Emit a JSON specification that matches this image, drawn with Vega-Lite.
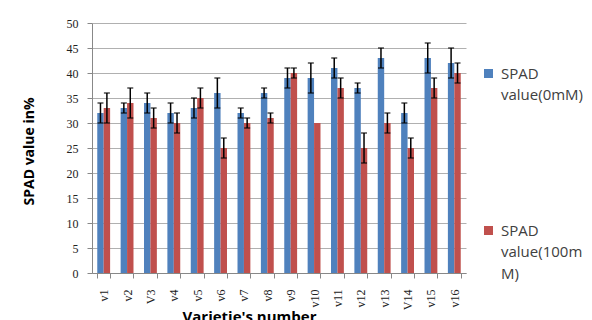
{
  "$schema": "https://vega.github.io/schema/vega-lite/v6.json",
  "width": 374,
  "height": 250,
  "autosize": {"type": "none"},
  "padding": {"left": 92, "top": 23, "right": 126, "bottom": 47},
  "background": "white",
  "config": {
    "view": {"stroke": null},
    "axisY": {
      "titleFont": "Open Sans",
      "titleFontSize": 14,
      "titleFontWeight": "bold",
      "titleColor": "#000",
      "titleAngle": -90,
      "titleX": -59,
      "titleY": 128,
      "titleBaseline": "alphabetic",
      "titleAlign": "center",
      "labelFont": "Liberation Serif",
      "labelFontSize": 12,
      "labelColor": "#222",
      "labelPadding": 9,
      "tickSize": 5,
      "tickColor": "#888",
      "domainColor": "#888",
      "gridColor": "#b0b0b0",
      "gridWidth": 1
    }
  },
  "resolve": {"axis": {"y": "independent"}},
  "data": {
    "values": [
      {"variety": "v1", "series": "0mM", "value": 32, "lo": 30, "hi": 34},
      {"variety": "v1", "series": "100mM", "value": 33, "lo": 30, "hi": 36},
      {"variety": "v2", "series": "0mM", "value": 33, "lo": 32, "hi": 34},
      {"variety": "v2", "series": "100mM", "value": 34, "lo": 31, "hi": 37},
      {"variety": "V3", "series": "0mM", "value": 34, "lo": 32, "hi": 36},
      {"variety": "V3", "series": "100mM", "value": 31, "lo": 29, "hi": 33},
      {"variety": "v4", "series": "0mM", "value": 32, "lo": 30, "hi": 34},
      {"variety": "v4", "series": "100mM", "value": 30, "lo": 28, "hi": 32},
      {"variety": "v5", "series": "0mM", "value": 33, "lo": 31, "hi": 35},
      {"variety": "v5", "series": "100mM", "value": 35, "lo": 33, "hi": 37},
      {"variety": "v6", "series": "0mM", "value": 36, "lo": 33, "hi": 39},
      {"variety": "v6", "series": "100mM", "value": 25, "lo": 23, "hi": 27},
      {"variety": "v7", "series": "0mM", "value": 32, "lo": 31, "hi": 33},
      {"variety": "v7", "series": "100mM", "value": 30, "lo": 29, "hi": 31},
      {"variety": "v8", "series": "0mM", "value": 36, "lo": 35, "hi": 37},
      {"variety": "v8", "series": "100mM", "value": 31, "lo": 30, "hi": 32},
      {"variety": "v9", "series": "0mM", "value": 39, "lo": 37, "hi": 41},
      {"variety": "v9", "series": "100mM", "value": 40, "lo": 39, "hi": 41},
      {"variety": "v10", "series": "0mM", "value": 39, "lo": 36, "hi": 42},
      {"variety": "v10", "series": "100mM", "value": 30, "lo": null, "hi": null},
      {"variety": "v11", "series": "0mM", "value": 41, "lo": 39, "hi": 43},
      {"variety": "v11", "series": "100mM", "value": 37, "lo": 35, "hi": 39},
      {"variety": "v12", "series": "0mM", "value": 37, "lo": 36, "hi": 38},
      {"variety": "v12", "series": "100mM", "value": 25, "lo": 22, "hi": 28},
      {"variety": "v13", "series": "0mM", "value": 43, "lo": 41, "hi": 45},
      {"variety": "v13", "series": "100mM", "value": 30, "lo": 28, "hi": 32},
      {"variety": "V14", "series": "0mM", "value": 32, "lo": 30, "hi": 34},
      {"variety": "V14", "series": "100mM", "value": 25, "lo": 23, "hi": 27},
      {"variety": "v15", "series": "0mM", "value": 43, "lo": 40, "hi": 46},
      {"variety": "v15", "series": "100mM", "value": 37, "lo": 35, "hi": 39},
      {"variety": "v16", "series": "0mM", "value": 42, "lo": 39, "hi": 45},
      {"variety": "v16", "series": "100mM", "value": 40, "lo": 38, "hi": 42}
    ]
  },
  "encoding": {
    "x": {
      "field": "variety",
      "type": "nominal",
      "sort": null,
      "scale": {"paddingInner": 0.45, "paddingOuter": 0.225},
      "axis": {
        "title": "Varietie's number",
        "titleFont": "Open Sans",
        "titleFontSize": 15,
        "titleFontWeight": "bold",
        "titleColor": "#000",
        "titleX": 157,
        "titleY": 48,
        "titleBaseline": "alphabetic",
        "titleAnchor": "middle",
        "labelAngle": -90,
        "labelFont": "Liberation Serif",
        "labelFontSize": 12,
        "labelColor": "#222",
        "labelPadding": 11,
        "tickBand": "extent",
        "tickSize": 5,
        "tickColor": "#888",
        "domainColor": "#888",
        "grid": false
      }
    },
    "xOffset": {
      "field": "series",
      "type": "nominal",
      "sort": null,
      "scale": {"paddingInner": 0, "paddingOuter": 0}
    }
  },
  "layer": [
    {
      "mark": {"type": "bar"},
      "encoding": {
        "y": {
          "field": "value",
          "type": "quantitative",
          "title": "SPAD value in%",
          "scale": {"domain": [0, 50]},
          "axis": {"values": [0, 5, 10, 15, 20, 25, 30, 35, 40, 45, 50], "labelOverlap": false}
        },
        "color": {
          "field": "series",
          "type": "nominal",
          "sort": null,
          "scale": {"domain": ["0mM", "100mM"], "range": ["#4F81BD", "#C0504D"]},
          "legend": {
            "orient": "none",
            "legendX": 389,
            "legendY": 43,
            "title": null,
            "direction": "vertical",
            "padding": 0,
            "rowPadding": 120,
            "symbolType": "square",
            "symbolSize": 81,
            "symbolStrokeWidth": 0,
            "labelFont": "Open Sans",
            "labelFontSize": 15,
            "labelColor": "#404040",
            "labelOffset": 5,
            "labelBaseline": "alphabetic",
            "labelLimit": 200,
            "labelExpr": "datum.value == '0mM' ? ['SPAD', 'value(0mM)'] : ['SPAD', 'value(100m', 'M)']",
            "encode": {"labels": {"update": {"lineHeight": {"value": 21.5}, "dy": {"value": 5}}}}
          }
        }
      }
    },
    {
      "transform": [{"filter": "datum.lo != null"}],
      "mark": {"type": "rule", "color": "black", "strokeWidth": 1.5},
      "encoding": {
        "y": {"field": "lo", "type": "quantitative", "axis": null},
        "y2": {"field": "hi"}
      }
    },
    {
      "transform": [{"filter": "datum.lo != null"}],
      "mark": {"type": "tick", "color": "black", "thickness": 1.5, "size": 6},
      "encoding": {
        "y": {"field": "lo", "type": "quantitative", "axis": null}
      }
    },
    {
      "transform": [{"filter": "datum.hi != null"}],
      "mark": {"type": "tick", "color": "black", "thickness": 1.5, "size": 6},
      "encoding": {
        "y": {"field": "hi", "type": "quantitative", "axis": null}
      }
    }
  ]
}
